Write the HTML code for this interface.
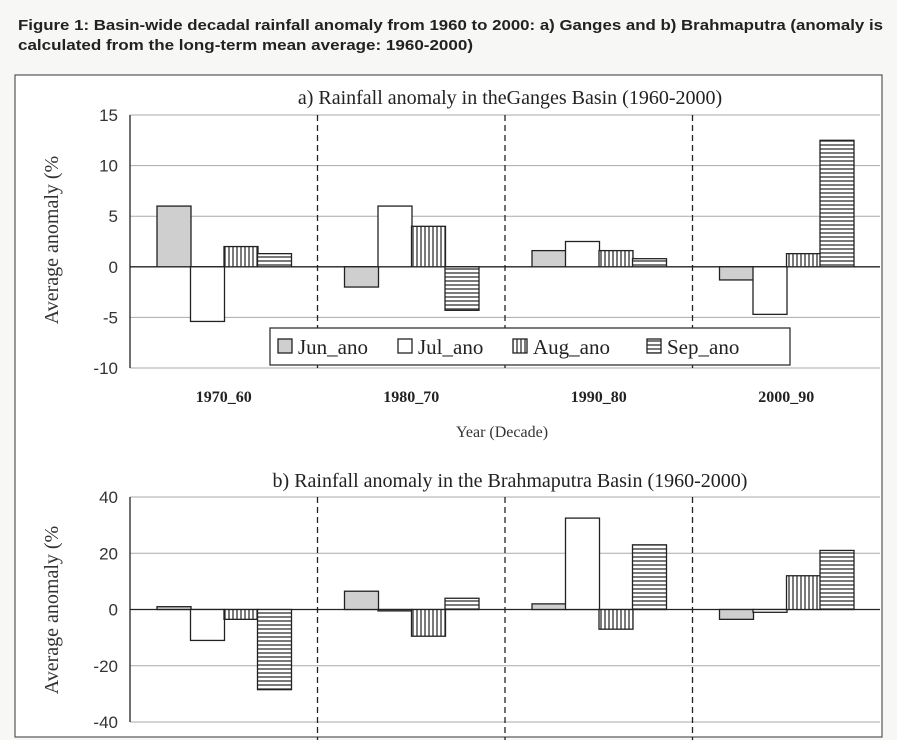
<!DOCTYPE html>
<html><head><meta charset="utf-8"><style>
body{margin:0;background:#f7f7f5;}
svg{display:block}
</style></head><body>
<svg width="897" height="740" viewBox="0 0 897 740" xmlns="http://www.w3.org/2000/svg">
<defs>
<pattern id="vl" width="4" height="4" patternUnits="userSpaceOnUse"><rect width="4" height="4" fill="#fff"/><line x1="1" y1="0" x2="1" y2="4" stroke="#222" stroke-width="1.2"/></pattern>
<pattern id="hl" width="4" height="4" patternUnits="userSpaceOnUse"><rect width="4" height="4" fill="#fff"/><line x1="0" y1="1" x2="4" y2="1" stroke="#222" stroke-width="1.2"/></pattern>
</defs>
<text x="18" y="30" font-family="Liberation Sans, sans-serif" font-weight="bold" font-size="15" fill="#222" textLength="865" lengthAdjust="spacingAndGlyphs">Figure 1: Basin-wide decadal rainfall anomaly from 1960 to 2000: a) Ganges and b) Brahmaputra (anomaly is</text>
<text x="18" y="50" font-family="Liberation Sans, sans-serif" font-weight="bold" font-size="15" fill="#222" textLength="455" lengthAdjust="spacingAndGlyphs">calculated from the long-term mean average: 1960-2000)</text>
<rect x="15" y="75" width="867" height="662" fill="#fff" stroke="#555" stroke-width="1.2"/>
<g id="ca"></g>
<g id="cb"></g>
</svg>
<script>
const categories = ["1970_60","1980_70","1990_80","2000_90"];
const seriesNames = ["Jun_ano","Jul_ano","Aug_ano","Sep_ano"];
const gangesJun = [6, -2, 1.6, -1.3];
const gangesJul = [-5.4, 6, 2.5, -4.7];
const gangesAug = [2, 4, 1.6, 1.3];
const gangesSep = [1.3, -4.3, 0.8, 12.5];
const gangesTicks = [15, 10, 5, 0, -5, -10];
const brahJun = [1, 6.5, 2, -3.5];
const brahJul = [-11, -0.5, 32.5, -1];
const brahAug = [-3.5, -9.5, -7, 12];
const brahSep = [-28.5, 4, 23, 21];
const brahTicks = [40, 20, 0, -20, -40];

const NS="http://www.w3.org/2000/svg";
const fills=["#cfcfcf","#fff","url(#vl)","url(#hl)"];
function mk(parent,tag,attrs,txt){const e=document.createElementNS(NS,tag);for(const k in attrs)e.setAttribute(k,attrs[k]);if(txt!==undefined)e.textContent=txt;parent.appendChild(e);return e;}

function drawChart(g, cfg){
  const x0=130,x1=880;
  const gw=(x1-x0)/categories.length;
  const y=v=>cfg.yTop+(cfg.max-v)/(cfg.max-cfg.min)*(cfg.yBot-cfg.yTop);
  cfg.ticks.forEach(t=>{
    const l=mk(g,'line',{x1:x0,x2:x1,y1:y(t),y2:y(t),stroke:t===0?'#222':'#aaa','stroke-width':t===0?1.3:1});
    
    
    const tx=mk(g,'text',{x:x0-12,y:y(t)+6,'text-anchor':'end','font-family':'Liberation Sans, sans-serif','font-size':17,fill:'#333'},String(t));
    
    
  });
  const ax=mk(g,'line',{x1:x0,x2:x0,y1:cfg.yTop,y2:cfg.yBot,stroke:'#222','stroke-width':1.3});
  
  
  for(let i=1;i<categories.length;i++){
    const d=mk(g,'line',{x1:x0+gw*i,x2:x0+gw*i,y1:cfg.yTop,y2:cfg.yBot+(cfg.sepExt||0),stroke:'#222','stroke-width':1.3,'stroke-dasharray':'6,4'});
    
    
  }
  categories.forEach((c,i)=>{
    cfg.series.forEach((s,j)=>{
      const v=s[i];const bx=x0+gw*i+27+j*33.5;
      const r=mk(g,'rect',{x:bx,width:34,y:Math.min(y(v),y(0)),height:Math.abs(y(v)-y(0)),fill:fills[j],stroke:'#222','stroke-width':1.3});
      
      
    });
    if(cfg.catY){
      const t=mk(g,'text',{x:x0+gw*i+gw/2,y:cfg.catY,'text-anchor':'middle','font-family':'Liberation Serif, serif','font-weight':'bold','font-size':16,fill:'#222'},c);
      
      
    }
  });
  const ti=mk(g,'text',{x:cfg.titleX,y:cfg.titleY,'text-anchor':'middle','font-family':'Liberation Serif, serif','font-size':20,fill:'#222'},cfg.title);
  
  
  const yl=mk(g,'text',{x:0,y:0,transform:'translate(58,'+cfg.ylY+') rotate(-90)','text-anchor':'middle','font-family':'Liberation Serif, serif','font-size':20,fill:'#333'},'Average anomaly (%');
  
  
}
const ga=document.getElementById('ca');
drawChart(ga,{yTop:115,yBot:368,max:15,min:-10,ticks:gangesTicks,series:[gangesJun,gangesJul,gangesAug,gangesSep],catY:402,title:'a) Rainfall anomaly in theGanges Basin (1960-2000)',titleX:510,titleY:104,ylY:240});
const gb=document.getElementById('cb');
drawChart(gb,{yTop:497,yBot:722,max:40,min:-40,ticks:brahTicks,series:[brahJun,brahJul,brahAug,brahSep],title:'b) Rainfall anomaly in the Brahmaputra Basin (1960-2000)',titleX:510,titleY:487,ylY:610,sepExt:20});
const xt=mk(ga,'text',{x:502,y:437,'text-anchor':'middle','font-family':'Liberation Serif, serif','font-size':16,fill:'#333'},'Year (Decade)');


const lg=mk(ga,'g',{});


mk(lg,'rect',{x:270,y:328,width:520,height:37,fill:'#fff',stroke:'#333','stroke-width':1.3});
const lx=[278,398,513,647];
seriesNames.forEach((n,j)=>{
  const sw=mk(lg,'rect',{x:lx[j],y:339,width:14,height:14,fill:fills[j],stroke:'#222','stroke-width':1.3});
  
  
  const t=mk(lg,'text',{x:lx[j]+20,y:354,'font-family':'Liberation Serif, serif','font-size':21,fill:'#222'},n);
  
  
});
</script>
</body></html>
